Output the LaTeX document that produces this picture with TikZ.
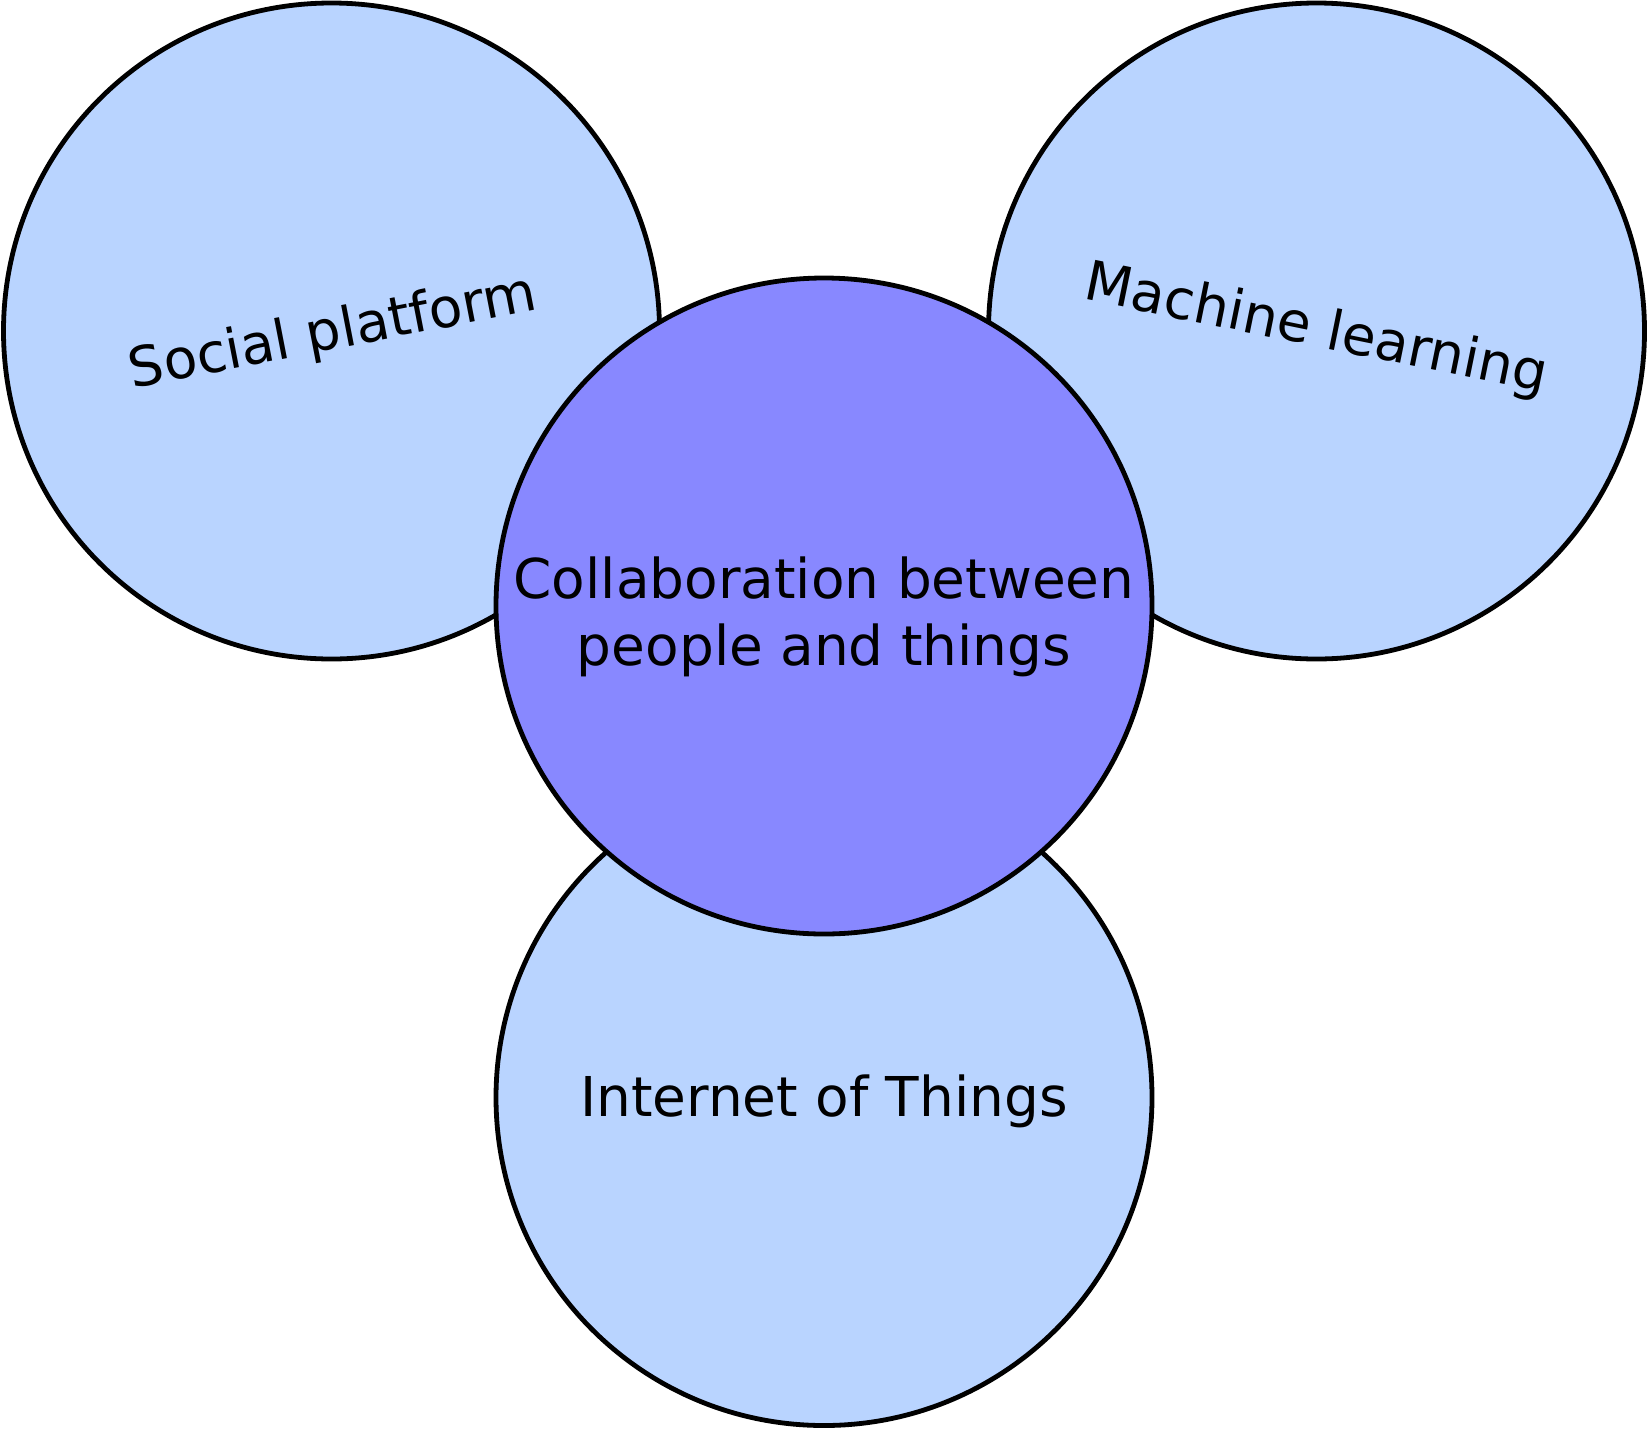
\documentclass[tikz,border=0pt]{standalone}
\usepackage{fontspec}
\setmainfont{DejaVu Sans}
\definecolor{lightblob}{RGB}{185,212,255}
\definecolor{centerblob}{RGB}{136,136,255}
\begin{document}
\begin{tikzpicture}[x=1pt,y=-1pt,
  blob/.style={draw=black,line width=4.8pt,fill=lightblob},
  hub/.style={draw=black,line width=4.8pt,fill=centerblob},
  lbl/.style={font=\fontsize{54.9}{67.5}\selectfont,align=center,inner sep=0pt}]
\useasboundingbox (0,0) rectangle (1648,1430);
\path[blob] (331.5,331) circle[radius=328];
\path[blob] (1316.5,331) circle[radius=328];
\path[blob] (824,1097.5) circle[radius=328];
\path[hub] (824,606) circle[radius=328];
\node[lbl,rotate=11] (social) at (333,334) {Social platform};
\node[lbl,rotate=-11.5] (ml) at (1316,331) {Machine learning};
\node[lbl] (iot) at (824,1101) {Internet of Things};
\node[lbl] (collab) at (824,617) {Collaboration between\\people and things};
\end{tikzpicture}
\end{document}
